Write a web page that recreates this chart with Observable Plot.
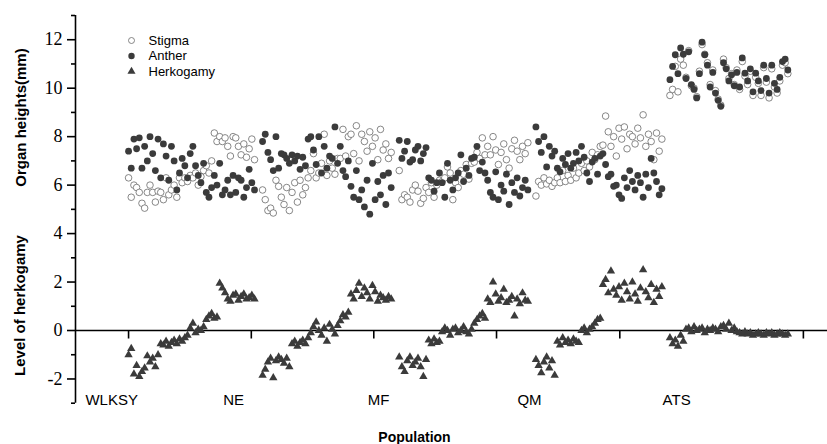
<!DOCTYPE html>
<html><head><meta charset="utf-8">
<script src="https://cdn.jsdelivr.net/npm/d3@7"></script>
<script src="https://cdn.jsdelivr.net/npm/@observablehq/plot@0.6"></script>
<style>body{margin:0;background:#fff}#chart{width:827px;height:444px}</style>
</head><body><div id="chart"></div>
<script>
const populations = ["WLKSY", "NE", "MF", "QM", "ATS"];

const stigmaWLKSY = [6.3,5.5,6.0,5.9,5.7,5.25,5.05,5.7,6.0,5.7,5.3,5.75, 5.7,5.4,6.3,5.6,5.8,6.0,5.5,6.3,6.1,6.3, 6.15,6.4,6.3,6.5,6.0,6.35,6.6, 6.8,6.5,7.0,8.15,7.8, 8.0,7.8,7.95,7.6,7.2,8.0,7.95,7.6,7.25,7.7,7.15,7.5,7.9,7.05];
const antherWLKSY = [7.4,6.7,7.9,7.5,7.95,6.7,7.6,7.0,8.0,7.3,6.6,7.9, 6.3,7.7,7.2,6.2,7.6,7.0,5.8,6.5,7.1,6.8, 6.3,7.3,7.6,6.8,6.4,6.1,6.9, 5.7,5.5,5.9,6.4,6.0, 6.9,5.6,5.8,6.2,5.6,6.4,5.7,6.3,6.2,5.5,5.9,6.65,6.1,5.8];
const herkWLKSY = [-1.0,-0.75,-1.8,-1.45,-1.9,-1.7,-1.55,-1.05,-1.3,-1.15,-1.5,-1.0, -0.55,-0.6,-0.45,-0.65,-0.5,-0.4,-0.55,-0.35,-0.45,-0.3, -0.2,0.1,0.3,-0.1,0.05,0.0,0.15, 0.45,0.6,0.7,0.5,0.55, 1.95,1.75,1.55,1.3,1.2,1.45,1.5,1.25,1.4,1.5,1.3,1.35,1.45,1.3];

const stigmaNE = [5.8,5.4,4.95,5.05,4.85,6.2,5.95,5.5,5.2,5.9,4.95, 5.7,6.1,5.3,6.2,5.6,5.9, 6.3,6.6,7.3,6.3,6.5,6.9,8.1,6.4,7.0,6.7,6.45,7.1, 7.1,8.3,7.2,8.0, 8.1,7.3,8.45,7.0,8.1,7.8,7.4,8.2,7.6,7.95,7.05,8.3,7.45,7.7,7.1,7.35];
const antherNE = [7.8,8.1,7.35,7.05,6.6,8.0,6.7,7.3,7.25,7.1,6.9, 7.25,7.0,7.2,6.65,7.15,6.8, 7.9,8.0,7.45,6.85,8.0,6.5,7.6,6.7,7.2,7.1,8.4,6.9, 7.6,6.6,6.35,7.0, 5.95,5.5,6.6,5.4,5.8,5.1,6.2,4.8,6.9,5.4,6.15,5.6,6.4,5.2,6.5,5.9];
const herkNE = [-1.85,-1.6,-1.3,-1.15,-1.95,-1.25,-1.1,-1.2,-1.35,-1.15,-1.5, -0.55,-0.45,-0.65,-0.5,-0.4,-0.55, -0.3,-0.1,0.15,0.35,0.0,-0.2,0.1,-0.45,0.25,0.05,-0.15,0.2, 0.4,0.65,0.55,0.75, 1.5,1.3,1.65,1.95,1.4,1.75,1.55,1.3,1.85,1.6,1.2,1.45,1.35,1.25,1.4,1.3];

const stigmaMF = [6.6,5.4,5.6,5.5,5.3,5.8,6.0,5.75,5.25,5.45,5.9, 5.7,6.1,5.5,6.0,6.2, 6.15,6.3,6.75,6.5,5.4,6.1,5.9,6.6,6.45,6.85,6.25,6.9, 6.95,7.35,7.1,7.95,7.25, 7.6,7.25,8.0,7.45,6.85,7.35,7.7,7.05,6.7,7.5,7.85,7.4,7.05,7.6,7.3,7.75];
const antherMF = [7.85,7.1,7.4,7.8,6.95,7.05,7.45,7.6,7.0,7.3,7.55, 6.3,6.2,5.75,6.1,6.5, 6.1,5.5,6.9,6.2,5.8,6.3,6.5,7.25,6.15,6.7,6.4,7.1, 7.15,7.6,6.6,6.95,6.5, 6.2,5.7,5.5,6.55,5.4,6.0,5.75,6.45,5.2,6.1,5.7,6.3,5.55,5.9,6.2,5.8];
const herkMF = [-1.1,-1.5,-1.7,-1.25,-1.1,-1.45,-1.3,-1.15,-1.5,-1.9,-1.2, -0.4,-0.55,-0.35,-0.5,-0.45, -0.05,0.1,0.0,-0.2,0.05,0.1,-0.1,0.0,0.15,-0.05,-0.15,0.05, 0.3,0.45,0.6,0.7,0.5, 1.3,1.15,2.0,1.5,1.2,1.35,1.7,1.15,1.25,1.4,0.6,1.3,1.1,1.55,1.25,1.2];

const stigmaQM = [5.55,6.15,6.0,6.3,6.05,6.2,5.95,6.1, 6.3,6.1,6.6,6.15,6.4,6.2,6.7,6.3,6.5, 6.9,6.6,7.0,6.75,7.35,7.05,7.25,7.6, 7.65,8.85,8.2,7.6,8.0,7.2,8.35,7.9,8.4,7.5,8.1,8.0,7.7,8.35,7.95,8.9,7.6,8.1,7.8,7.05,8.15,7.4,7.9];
const antherQM = [8.4,7.8,7.35,8.0,6.75,7.6,7.2,7.4, 6.7,6.55,7.1,6.85,7.3,6.7,6.9,7.35,7.0, 7.6,7.15,6.5,6.15,6.95,7.1,6.45,7.2, 7.3,6.85,6.35,6.45,5.95,6.0,5.6,5.45,6.3,5.9,6.6,6.15,5.8,6.4,6.1,5.5,6.45,5.9,7.1,6.5,6.15,5.6,5.85];
const herkQM = [-1.2,-1.45,-1.75,-1.3,-1.1,-1.55,-1.25,-1.85, -0.45,-0.6,-0.3,-0.5,-0.4,-0.55,-0.35,-0.45,-0.5, 0.0,0.1,-0.1,0.05,0.15,0.3,0.45,0.5, 1.9,2.1,1.55,2.45,1.7,1.45,1.8,1.25,1.95,1.6,1.3,2.0,1.5,1.2,1.75,2.5,1.6,1.35,1.9,1.15,1.7,1.4,1.8];

const stigmaATS = [9.7,9.95,10.9,9.85,11.2,10.95, 10.45,11.55,10.1,10.0,9.65,10.7,11.8,11.4,11.05,10.15,10.75,9.9,9.55,9.3,11.2,10.85,10.4,10.6,10.15,10.75, 9.95,11.1,10.5,10.15,10.7,9.7,10.45,10.2,9.7,10.85,10.25,9.6,10.8,10.05,9.8,10.3,10.95,11.05,10.6];
const antherATS = [10.35,10.9,11.38,10.6,11.66,11.4, 10.4,11.5,10.15,9.95,9.6,10.6,11.9,11.38,10.95,10.05,10.65,9.8,9.5,9.25,11.05,10.8,10.3,10.55,10.1,10.65, 10.05,11.25,10.62,10.3,10.8,9.85,10.62,10.3,9.9,10.95,10.4,9.8,10.95,10.2,9.95,10.45,11.1,11.2,10.75];
const herkATS = [-0.3,-0.55,-0.4,-0.65,-0.2,-0.45, 0.05,0.1,-0.05,0.15,0.0,0.05,0.1,-0.1,0.05,0.0,0.1,0.05,-0.05,0.15,0.2,0.05,0.3,0.0,0.1,-0.05, -0.1,-0.15,-0.05,-0.15,-0.1,-0.2,-0.15,-0.1,-0.15,-0.2,-0.1,-0.15,-0.1,-0.2,-0.15,-0.1,-0.15,-0.2,-0.15];

const legendLabels = ["Stigma", "Anther", "Herkogamy"];
const yMajorTicks = [-2, 0, 2, 4, 6, 8, 10, 12];
const yMinorTicks = [-3, -1, 1, 3, 5, 7, 9, 11, 13];
// sample-index positions of the ticks on the zero line and of the population names
const zeroLineTicks = [0, 45.8, 91.5, 137.3, 183.3, 251.8];
const populationLabelAt = [-6.3, 39.2, 93.3, 149.6, 204.5];

// layout
const xDomain = [-19.8, 260.8];
const groupGap = 2;

const series = {
  WLKSY: [stigmaWLKSY, antherWLKSY, herkWLKSY],
  NE: [stigmaNE, antherNE, herkNE],
  MF: [stigmaMF, antherMF, herkMF],
  QM: [stigmaQM, antherQM, herkQM],
  ATS: [stigmaATS, antherATS, herkATS]
};
const rows = [];
let start = 0;
for (const p of populations) {
  const [s, a, h] = series[p];
  s.forEach((v, i) => rows.push({pop: p, x: start + i, stigma: v, anther: a[i], herk: h[i]}));
  start += s.length + groupGap;
}

const tickDown = {draw(ctx) { ctx.moveTo(0, 0); ctx.lineTo(0, 8); }};
const dark = "#3b3b3b";
const openStroke = "#6a6a6a";
const sans = "Liberation Sans, Arial, sans-serif";

const legendMarks = legendLabels.flatMap((label, k) => {
  const dy = 25 + k * 15.5;
  const m = [];
  if (k === 0) m.push(Plot.dot([label], {frameAnchor: "top-left", dx: 56, dy, r: 3, fill: "white", stroke: openStroke, strokeWidth: 0.8}));
  if (k === 1) m.push(Plot.dot([label], {frameAnchor: "top-left", dx: 56, dy, r: 3.2, fill: dark}));
  if (k === 2) m.push(Plot.dot([label], {frameAnchor: "top-left", dx: 56, dy, r: 3, symbol: "triangle", fill: dark}));
  m.push(Plot.text([label], {frameAnchor: "top-left", dx: 73, dy, text: d => d, textAnchor: "start", lineAnchor: "middle", fontSize: 13, fontFamily: sans, fill: "black"}));
  return m;
});

const chart = Plot.plot({
  width: 827,
  height: 444,
  marginLeft: 75,
  marginRight: 0,
  marginTop: 15,
  marginBottom: 41.3,
  style: {fontFamily: sans, background: "white"},
  x: {domain: xDomain, axis: null},
  y: {domain: [-3, 13]},
  marks: [
    Plot.ruleY([0], {stroke: "black", strokeWidth: 1.6}),
    Plot.dot(zeroLineTicks, {x: d => d, y: 0, symbol: tickDown, fill: "none", stroke: "black", strokeWidth: 1.6}),
    Plot.ruleX([xDomain[0]], {stroke: "black", strokeWidth: 1.6}),
    Plot.axisY({ticks: yMajorTicks, tickSize: 8, tickPadding: 5, tickFormat: d => String(d), fontSize: 18, fontFamily: "Liberation Serif, Times New Roman, serif", strokeWidth: 1.6, label: null, color: "black"}),
    Plot.axisY({ticks: yMinorTicks, tickSize: 4, tickFormat: () => "", strokeWidth: 1.6, label: null}),
    Plot.dot(rows, {x: "x", y: "stigma", r: 3.3, fill: "white", stroke: openStroke, strokeWidth: 0.8}),
    Plot.dot(rows, {x: "x", y: "anther", r: 3.4, fill: dark}),
    Plot.dot(rows, {x: "x", y: "herk", r: 3.1, symbol: "triangle", fill: dark}),
    Plot.text(populations, {x: (d, i) => populationLabelAt[i], frameAnchor: "bottom", lineAnchor: "middle", dy: -2.7, text: d => d, fontSize: 15, fontFamily: sans, fill: "black"}),
    ...legendMarks,
    Plot.text(["Organ heights(mm)"], {frameAnchor: "top-left", dx: -54, dy: 102, rotate: -90, textAnchor: "middle", lineAnchor: "middle", text: d => d, fontSize: 15, fontWeight: "bold", fontFamily: sans, fill: "black"}),
    Plot.text(["Level of herkogamy"], {frameAnchor: "top-left", dx: -55, dy: 290, rotate: -90, textAnchor: "middle", lineAnchor: "middle", text: d => d, fontSize: 15, fontWeight: "bold", fontFamily: sans, fill: "black"}),
    Plot.text(["Population"], {frameAnchor: "bottom-left", dx: 339, dy: 34.3, textAnchor: "middle", lineAnchor: "middle", text: d => d, fontSize: 14, fontWeight: "bold", fontFamily: sans, fill: "black"})
  ]
});
document.getElementById("chart").appendChild(chart);
</script>
</body></html>
